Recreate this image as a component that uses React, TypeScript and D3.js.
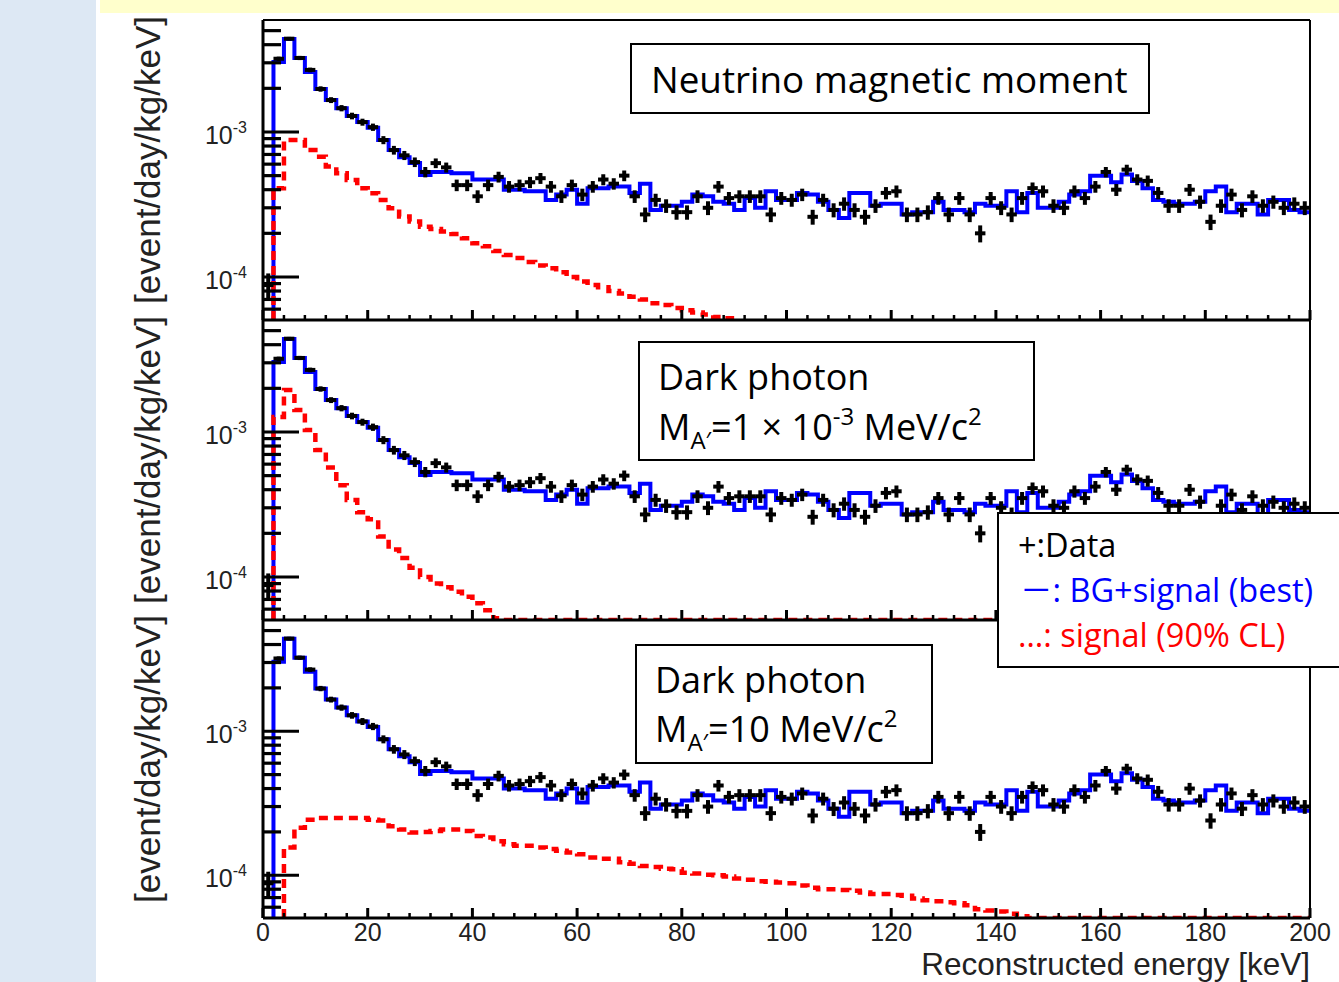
import React from 'react';
import * as d3 from 'd3';

// 2 keV bins from 0 to 200 keV, rates in units of 1e-3 event/day/kg/keV
const binWidth = 2;
const energyMax = 200;

// measured data, bin centres 1, 3, ..., 199 keV
const dataRate = [
  0.088, 3.2, 4.4, 3.24, 2.68, 1.98, 1.66, 1.46, 1.29, 1.17,
  1.08, 0.88, 0.75, 0.69, 0.62, 0.53, 0.61, 0.57, 0.43, 0.43,
  0.36, 0.43, 0.49, 0.42, 0.43, 0.45, 0.48, 0.42, 0.36, 0.43,
  0.37, 0.42, 0.47, 0.44, 0.50, 0.36, 0.27, 0.34, 0.31, 0.28,
  0.28, 0.36, 0.30, 0.42, 0.35, 0.36, 0.36, 0.36, 0.27, 0.35,
  0.34, 0.37, 0.26, 0.34, 0.29, 0.32, 0.29, 0.26, 0.31, 0.38,
  0.39, 0.27, 0.27, 0.28, 0.35, 0.27, 0.35, 0.27, 0.20, 0.35,
  0.30, 0.27, 0.35, 0.41, 0.39, 0.31, 0.30, 0.39, 0.35, 0.42,
  0.53, 0.40, 0.55, 0.47, 0.46, 0.38, 0.31, 0.31, 0.40, 0.33,
  0.24, 0.31, 0.37, 0.29, 0.36, 0.31, 0.33, 0.30, 0.32, 0.30,
];

// BG + signal best fit (same in all three panels)
const bgSignalBest = [
  null, 3.04, 4.38, 3.24, 2.59, 1.98, 1.66, 1.46, 1.29, 1.17,
  1.07, 0.88, 0.75, 0.67, 0.61, 0.505, 0.53, 0.53, 0.52, 0.52,
  0.47, 0.47, 0.47, 0.40, 0.40, 0.39, 0.39, 0.34, 0.37, 0.40,
  0.32, 0.41, 0.41, 0.42, 0.42, 0.38, 0.44, 0.29, 0.31, 0.31,
  0.33, 0.37, 0.36, 0.33, 0.32, 0.29, 0.35, 0.30, 0.39, 0.34,
  0.34, 0.38, 0.37, 0.33, 0.29, 0.255, 0.38, 0.38, 0.31, 0.32,
  0.32, 0.27, 0.28, 0.28, 0.33, 0.29, 0.29, 0.28, 0.32, 0.31,
  0.31, 0.39, 0.28, 0.38, 0.30, 0.30, 0.33, 0.37, 0.39, 0.50,
  0.50, 0.45, 0.51, 0.46, 0.41, 0.34, 0.33, 0.32, 0.32, 0.33,
  0.39, 0.42, 0.28, 0.32, 0.32, 0.27, 0.34, 0.34, 0.29, 0.28,
];

// signal at 90% CL
const signalNMM = [
  null, 0.41, 0.88, 0.88, 0.75, 0.676, 0.577, 0.519, 0.467, 0.409,
  0.378, 0.34, 0.298, 0.261, 0.241, 0.222, 0.214, 0.206, 0.198, 0.185,
  0.171, 0.163, 0.151, 0.142, 0.135, 0.127, 0.12, 0.115, 0.108, 0.10,
  0.093, 0.088, 0.085, 0.080, 0.077, 0.073, 0.070, 0.066, 0.064, 0.061,
  0.059, 0.057, 0.055, 0.053, 0.052,
];

const signalDP1keV = [
  null, 1.27, 1.95, 1.42, 1.03, 0.75, 0.57, 0.43, 0.34, 0.28,
  0.25, 0.19, 0.155, 0.135, 0.116, 0.10, 0.09, 0.085, 0.079, 0.073,
  0.066, 0.059, 0.052,
];

const signalDP10MeV = [
  null, null, 0.156, 0.214, 0.243, 0.25, 0.25, 0.25, 0.25, 0.25,
  0.243, 0.24, 0.219, 0.208, 0.198, 0.20, 0.203, 0.208, 0.208, 0.203,
  0.187, 0.183, 0.172, 0.164, 0.16, 0.16, 0.156, 0.152, 0.148, 0.144,
  0.14, 0.133, 0.13, 0.13, 0.123, 0.12, 0.116, 0.114, 0.111, 0.11,
  0.104, 0.103, 0.101, 0.10, 0.098, 0.095, 0.093, 0.091, 0.09, 0.089,
  0.088, 0.085, 0.082, 0.08, 0.08, 0.079, 0.078, 0.076, 0.074, 0.074,
  0.073, 0.072, 0.069, 0.067, 0.066, 0.065, 0.064, 0.062, 0.058, 0.057,
  0.056, 0.054, 0.052,
];

// rate that one count corresponds to (for statistical error bars)
const countScale = 3.6e-6;

const xTickLabels = [0, 20, 40, 60, 80, 100, 120, 140, 160, 180, 200];
const yDomain = [5.05e-5, 5.92e-3];

const panels = [
  { signal: signalNMM, zeroTail: false },
  { signal: signalDP1keV, zeroTail: true },
  { signal: signalDP10MeV, zeroTail: true },
];

const frameTop = [20, 320, 620];
const frameBottom = [320, 620, 918];

const x = d3.scaleLinear().domain([0, energyMax]).range([263, 1310]);
const nBins = energyMax / binWidth;

function stepPath(values, y, bottom, zeroTail) {
  let d = '';
  let started = false;
  for (let i = 0; i < nBins; i++) {
    let v = i < values.length ? values[i] : (zeroTail ? 0 : null);
    if (v == null) {
      if (started) break;
      continue;
    }
    const lo = x(i * binWidth), hi = x((i + 1) * binWidth);
    const yy = v > 0 ? y(v * 1e-3) : bottom;
    if (!started) {
      d += `M${lo},${bottom}`;
      started = true;
    }
    d += `L${lo},${yy}L${hi},${yy}`;
  }
  return d;
}

const axisFont = '"Liberation Sans", Arial, sans-serif';
const boxFont = '"Open Sans", "Noto Sans", sans-serif';

function Panel({ idx }) {
  const top = frameTop[idx], bottom = frameBottom[idx];
  const y = d3.scaleLog().domain(yDomain).range([bottom, top]);
  const p = panels[idx];
  const clipId = 'clip' + idx;
  const yTicks = y.ticks().filter(t => t >= yDomain[0] && t <= yDomain[1]);
  const isMajor = t => Math.abs(Math.log10(t) - Math.round(Math.log10(t))) < 1e-6;

  return (
    <g>
      <defs>
        <clipPath id={clipId}>
          <rect x={263} y={top} width={1310 - 263} height={bottom - top} />
        </clipPath>
      </defs>
      <g clipPath={`url(#${clipId})`}>
        <path d={stepPath(bgSignalBest, y, bottom, false)} fill="none" stroke="#0000ff" strokeWidth={4} />
        <path d={stepPath(p.signal, y, bottom, p.zeroTail)} fill="none" stroke="#ff0000" strokeWidth={4.5} strokeDasharray="9 6" />
        {dataRate.map((v, i) => {
          const V = v * 1e-3;
          const err = Math.sqrt(V / countScale) * countScale;
          const c = (i + 0.5) * binWidth;
          return (
            <g key={i} stroke="#000" strokeWidth={4}>
              <line x1={x(c - binWidth / 2)} x2={x(c + binWidth / 2)} y1={y(V)} y2={y(V)} />
              <line x1={x(c)} x2={x(c)} y1={y(V + err)} y2={y(V - err)} />
            </g>
          );
        })}
      </g>
      {/* y ticks */}
      {yTicks.map((t, i) => (
        <line key={i} x1={263} x2={263 + (isMajor(t) ? 36 : 18)} y1={y(t)} y2={y(t)} stroke="#000" strokeWidth={3.2} />
      ))}
      {yTicks.filter(isMajor).map((t, i) => (
        <text key={'l' + i} x={247} y={y(t) + 12} textAnchor="end" fontFamily={axisFont} fontSize={25} fill="#222">
          10<tspan dy={-11} fontSize={16}>{Math.round(Math.log10(t))}</tspan>
        </text>
      ))}
      {/* x ticks */}
      {d3.range(0, energyMax + 1, 4).map(e => (
        <line key={'x' + e} x1={x(e)} x2={x(e)} y1={bottom} y2={bottom - (e % 20 === 0 ? 10 : 5)} stroke="#000" strokeWidth={e % 20 === 0 ? 3 : 2.5} />
      ))}
      {/* frame */}
      <line x1={263} x2={1310} y1={top} y2={top} stroke="#000" strokeWidth={2} />
      <line x1={263} x2={1310} y1={bottom} y2={bottom} stroke="#000" strokeWidth={3} />
      <line x1={263} x2={263} y1={top} y2={bottom} stroke="#000" strokeWidth={3} />
      <line x1={1310} x2={1310} y1={top} y2={bottom} stroke="#000" strokeWidth={2} />
      <text transform={`translate(160,${(top + bottom) / 2 - 10}) rotate(-90)`} textAnchor="middle" fontFamily={axisFont} fontSize={35} fill="#222">
        [event/day/kg/keV]
      </text>
    </g>
  );
}

export default function App() {
  return (
    <svg width={1339} height={982} style={{ position: 'absolute', left: 0, top: 0, display: 'block' }}>
      <rect x={0} y={0} width={1339} height={982} fill="#fff" />
      <rect x={0} y={0} width={96} height={982} fill="#dde8f4" />
      <rect x={100} y={0} width={1239} height={13} fill="#ffffcc" />

      {panels.map((_, i) => <Panel key={i} idx={i} />)}

      {xTickLabels.map(t => (
        <text key={t} x={x(t)} y={941} textAnchor="middle" fontFamily={axisFont} fontSize={25} fill="#222">{t}</text>
      ))}
      <text x={1310} y={975} textAnchor="end" fontFamily={axisFont} fontSize={31.5} fill="#222">Reconstructed energy [keV]</text>

      {/* annotation boxes */}
      <g fontFamily={boxFont} fill="#000">
        <rect x={631} y={44} width={518} height={69} fill="#fff" stroke="#000" strokeWidth={2} />
        <text x={651} y={93} fontSize={36.8}>Neutrino magnetic moment</text>

        <rect x={639} y={342} width={395} height={118} fill="#fff" stroke="#000" strokeWidth={2} />
        <text x={658} y={390} fontSize={36}>Dark photon</text>
        <text x={658} y={440} fontSize={36}>
          M<tspan dy={9} fontSize={24}>A′</tspan><tspan dy={-9}>=1 × 10</tspan><tspan dy={-15} fontSize={24}>-3</tspan><tspan dy={15}>  MeV/c</tspan><tspan dy={-15} fontSize={24}>2</tspan>
        </text>

        <rect x={636} y={645} width={296} height={118} fill="#fff" stroke="#000" strokeWidth={2} />
        <text x={655} y={693} fontSize={36}>Dark photon</text>
        <text x={655} y={742} fontSize={36}>
          M<tspan dy={9} fontSize={24}>A′</tspan><tspan dy={-9}>=10 MeV/c</tspan><tspan dy={-15} fontSize={24}>2</tspan>
        </text>

        <rect x={998} y={513} width={360} height={154} fill="#fff" stroke="#000" strokeWidth={2} />
        <text x={1018} y={557} fontSize={32.5} fill="#000">+:Data</text>
        <text x={1020} y={602} fontSize={32.5} fill="#0000ff"><tspan fontFamily='"Noto Sans CJK JP", sans-serif'>－</tspan>: BG+signal (best)</text>
        <text x={1018} y={647} fontSize={32.5} fill="#ff0000">…: signal (90% CL)</text>
      </g>
    </svg>
  );
}
